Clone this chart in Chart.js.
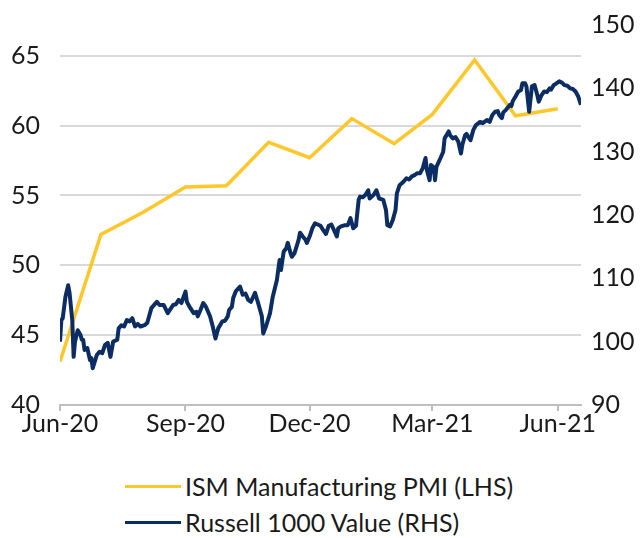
<!DOCTYPE html>
<html>
<head>
<meta charset="utf-8">
<script src="https://cdn.jsdelivr.net/npm/chart.js@4"></script>
<style>
  html, body { margin: 0; padding: 0; background: #ffffff; overflow: hidden; }
  #wrap { position: relative; width: 642px; height: 538px; }
  #chart { position: absolute; left: 0; top: 0; }
  #legend { position: absolute; left: 125px; top: 468px; font-family: "Lato", sans-serif; font-size: 25px; color: #1a1a1a; }
  #legend .row { display: flex; align-items: center; height: 36px; white-space: nowrap; }
  #legend .sw { display: inline-block; width: 56px; height: 3px; margin-right: 4px; }
</style>
</head>
<body>
<div id="wrap">
  <canvas id="chart" width="642" height="445"></canvas>
  <div id="legend"></div>
</div>
<script>
// ---- Data ----
const seriesNames = ['ISM Manufacturing PMI (LHS)', 'Russell 1000 Value (RHS)'];

const pmiDates = ['2020-06-01','2020-07-01','2020-08-01','2020-09-01','2020-10-01','2020-11-01','2020-12-01',
                  '2021-01-01','2021-02-01','2021-03-01','2021-04-01','2021-05-01','2021-06-01'];
const pmiValues = [43.1, 52.2, 53.8, 55.6, 55.7, 58.8, 57.7, 60.5, 58.7, 60.8, 64.7, 60.7, 61.2];

const russellDates = [
'2020-06-01','2020-06-02','2020-06-03','2020-06-05','2020-06-07','2020-06-08','2020-06-10','2020-06-11','2020-06-12','2020-06-14',
'2020-06-16','2020-06-17','2020-06-18','2020-06-19','2020-06-21','2020-06-23','2020-06-24','2020-06-25','2020-06-28','2020-06-30',
'2020-07-02','2020-07-04','2020-07-06','2020-07-08','2020-07-10','2020-07-13','2020-07-14','2020-07-16','2020-07-18','2020-07-20',
'2020-07-22','2020-07-24','2020-07-26','2020-07-28','2020-07-30','2020-08-02','2020-08-04','2020-08-07','2020-08-11','2020-08-13',
'2020-08-16','2020-08-19','2020-08-23','2020-08-25','2020-08-27','2020-08-29','2020-09-01','2020-09-02','2020-09-04','2020-09-07',
'2020-09-09','2020-09-10','2020-09-12','2020-09-14','2020-09-16','2020-09-19','2020-09-21','2020-09-23','2020-09-25','2020-09-28',
'2020-09-30','2020-10-02','2020-10-03','2020-10-05','2020-10-06','2020-10-08','2020-10-11','2020-10-13','2020-10-15','2020-10-17',
'2020-10-19','2020-10-22','2020-10-24','2020-10-27','2020-10-28','2020-10-30','2020-11-02','2020-11-04','2020-11-07','2020-11-09',
'2020-11-10','2020-11-12','2020-11-14','2020-11-15','2020-11-17','2020-11-18','2020-11-20','2020-11-23','2020-11-24','2020-11-26',
'2020-11-28','2020-11-29','2020-12-01','2020-12-03','2020-12-05','2020-12-07','2020-12-09','2020-12-11','2020-12-13','2020-12-15',
'2020-12-17','2020-12-20','2020-12-21','2020-12-22','2020-12-24','2020-12-27','2020-12-29','2020-12-31','2021-01-02','2021-01-04',
'2021-01-06','2021-01-07','2021-01-09','2021-01-11','2021-01-13','2021-01-14','2021-01-17','2021-01-19','2021-01-21','2021-01-24',
'2021-01-26','2021-01-27','2021-01-29','2021-01-31','2021-02-02','2021-02-03','2021-02-05','2021-02-08','2021-02-10','2021-02-12',
'2021-02-14','2021-02-16','2021-02-18','2021-02-20','2021-02-22','2021-02-24','2021-02-25','2021-02-27','2021-02-28','2021-03-02',
'2021-03-03','2021-03-04','2021-03-07','2021-03-09','2021-03-10','2021-03-13','2021-03-14','2021-03-16','2021-03-18','2021-03-20',
'2021-03-22','2021-03-23','2021-03-25','2021-03-26','2021-03-29','2021-03-31','2021-04-02','2021-04-05','2021-04-07','2021-04-10',
'2021-04-12','2021-04-14','2021-04-16','2021-04-18','2021-04-19','2021-04-21','2021-04-22','2021-04-24','2021-04-27','2021-04-28',
'2021-04-29','2021-05-01','2021-05-03','2021-05-05','2021-05-06','2021-05-08','2021-05-09','2021-05-11','2021-05-13','2021-05-15',
'2021-05-17','2021-05-18','2021-05-20','2021-05-22','2021-05-24','2021-05-26','2021-05-27','2021-05-29','2021-05-31','2021-06-02',
'2021-06-04','2021-06-06','2021-06-08','2021-06-10','2021-06-12','2021-06-14','2021-06-16','2021-06-18'
];
const russellValues = [
100.0,103.4,103.7,107.1,108.9,107.7,103.4,97.6,100.0,101.8,
101.1,100.3,100.3,98.7,99.0,97.1,97.4,95.8,97.9,98.4,
98.2,99.5,99.8,97.6,100.0,100.3,102.1,102.6,102.4,103.4,
103.2,103.7,102.4,102.8,102.4,102.6,103.0,105.3,106.3,105.8,
105.8,104.5,105.8,105.9,106.6,106.1,107.9,106.3,105.5,104.5,
104.7,104.0,105.0,106.1,105.5,104.0,102.4,100.5,102.1,103.2,
103.3,104.0,105.0,105.5,106.9,108.0,108.7,107.4,107.6,106.6,
106.3,107.7,106.3,104.0,101.3,102.4,104.5,107.1,109.7,112.9,
111.3,114.2,114.8,115.6,114.0,113.4,114.0,116.1,117.2,116.6,
116.1,115.6,116.6,117.9,118.7,118.5,118.3,117.6,117.0,118.3,
118.5,117.1,116.6,117.9,118.2,118.4,118.4,119.5,117.9,118.3,
122.4,122.9,122.8,123.2,123.9,122.6,123.2,123.9,122.6,122.4,
120.8,118.4,118.2,119.2,120.8,123.4,124.7,125.3,125.8,125.6,
126.1,126.3,126.6,126.6,127.4,129.0,127.1,125.5,127.9,127.5,
125.5,127.6,129.0,130.0,132.1,133.2,132.6,132.1,132.3,131.6,
129.7,131.1,132.6,132.8,131.8,133.4,134.2,134.7,134.5,135.0,
134.7,135.8,136.3,136.4,135.8,135.3,136.2,136.6,137.4,137.2,
138.0,138.7,139.5,139.7,140.8,140.8,140.3,136.3,140.3,140.5,
138.9,137.9,138.9,139.5,139.4,140.0,139.8,140.5,140.8,141.1,
140.9,140.5,140.4,140.0,139.9,139.5,138.7,137.4
];

const tickDates = ['2020-06-01','2020-09-01','2020-12-01','2021-03-01','2021-06-01'];
const tickLabels = ['Jun-20','Sep-20','Dec-20','Mar-21','Jun-21'];
const leftTicks = [40, 45, 50, 55, 60, 65];
const rightTicks = [90, 100, 110, 120, 130, 140, 150];
const xStart = '2020-06-01';
const xEnd = '2021-06-18';

// ---- Helpers ----
function dayNum(s) {
  const p = s.split('-').map(Number);
  return (Date.UTC(p[0], p[1] - 1, p[2]) - Date.UTC(2020, 5, 1)) / 86400000;
}
const colors = ['#FFC72C', '#0B2D63'];
const font = { family: "Lato, sans-serif", size: 25 };
const textColor = '#1a1a1a';

const pmiData = pmiDates.map((d, i) => ({ x: dayNum(d), y: pmiValues[i] }));
const rusData = russellDates.map((d, i) => ({ x: dayNum(d), y: russellValues[i] }));

new Chart(document.getElementById('chart'), {
  type: 'line',
  data: {
    datasets: [
      { label: seriesNames[1], data: rusData, yAxisID: 'y1', borderColor: colors[1], borderWidth: 4,
        pointRadius: 0, tension: 0, order: 0, borderJoinStyle: 'round' },
      { label: seriesNames[0], data: pmiData, yAxisID: 'y', borderColor: colors[0], borderWidth: 3.5,
        pointRadius: 0, tension: 0, order: 1, borderJoinStyle: 'miter' }
    ]
  },
  options: {
    responsive: false,
    animation: false,
    devicePixelRatio: 1,
    layout: { padding: { top: 25, bottom: 0, left: 0, right: 0 } },
    plugins: { legend: { display: false }, tooltip: { enabled: false } },
    scales: {
      x: {
        type: 'linear',
        min: dayNum(xStart),
        max: dayNum(xEnd),
        afterBuildTicks: ax => { ax.ticks = tickDates.map(d => ({ value: dayNum(d) })); },
        afterFit: ax => { ax.height = 40; ax.paddingLeft = 0; ax.paddingRight = 0; },
        ticks: { autoSkip: false, maxRotation: 0, padding: -2, color: textColor, font: font,
                 callback: (v, i) => tickLabels[i] },
        grid: { drawOnChartArea: false, drawTicks: true, tickLength: 6, color: '#BFBFBF', lineWidth: 2 },
        border: { display: true, color: '#BFBFBF', width: 2 }
      },
      y: {
        position: 'left',
        min: 40,
        max: 67.2,
        afterBuildTicks: ax => { ax.ticks = leftTicks.map(v => ({ value: v })); },
        afterFit: ax => { ax.width = 60; ax.paddingTop = 0; ax.paddingBottom = 0; },
        ticks: { padding: 20, color: textColor, font: font },
        grid: { color: '#D9D9D9', lineWidth: 2, drawTicks: false },
        border: { display: false }
      },
      y1: {
        position: 'right',
        min: 90,
        max: 150,
        afterBuildTicks: ax => { ax.ticks = rightTicks.map(v => ({ value: v })); },
        afterFit: ax => { ax.width = 61; ax.paddingTop = 0; ax.paddingBottom = 0; },
        ticks: { padding: 10, color: textColor, font: font },
        grid: { display: false, drawTicks: false },
        border: { display: false }
      }
    }
  }
});

// ---- HTML legend ----
const legendOrder = [0, 1];
const legendEl = document.getElementById('legend');
legendOrder.forEach(i => {
  const row = document.createElement('div');
  row.className = 'row';
  const sw = document.createElement('span');
  sw.className = 'sw';
  sw.style.background = colors[i];
  row.appendChild(sw);
  row.appendChild(document.createTextNode(seriesNames[i]));
  legendEl.appendChild(row);
});
</script>
</body>
</html>
